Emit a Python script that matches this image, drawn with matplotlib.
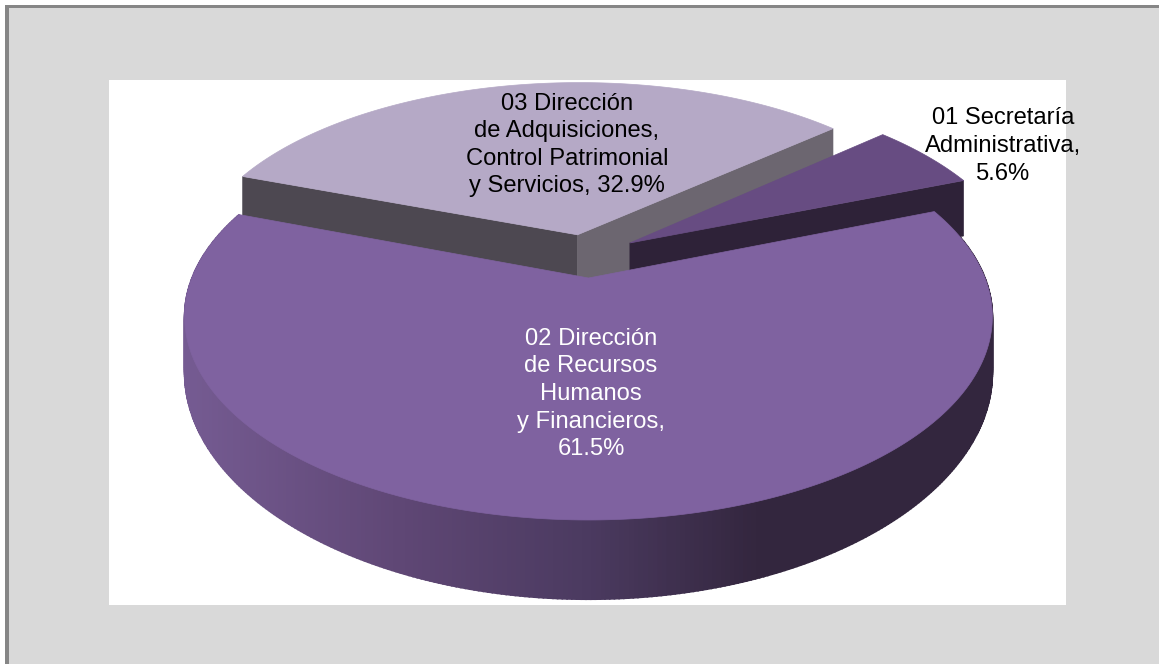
"""3D exploded pie: share of each administrative unit."""
import matplotlib

matplotlib.use("Agg")
import matplotlib.pyplot as plt
import numpy as np
from matplotlib.colors import LinearSegmentedColormap
from matplotlib.patches import Polygon, Rectangle

plt.rcParams["font.family"] = ["Liberation Sans", "DejaVu Sans"]

# data, clockwise from the start angle
categories = ["01 Secretaría\nAdministrativa,", "02 Dirección\nde Recursos\nHumanos\ny Financieros,",
              "03 Dirección\nde Adquisiciones,\nControl Patrimonial\ny Servicios,"]
shares = [5.6, 61.5, 32.9]

START_ANGLE = 48.6
# pie projection, in image pixels
CX, CY = 588.5, 278
WIDTH, HEIGHT, PERSP = 396.5, 196, 0.19
DROP = 52
OFFSETS = [(0.108, 0.185), (0.0, 0.0), (-0.029, 0.23)]
RADII = [1.005, 1.0, 1.0]
TOP_COLORS = ["#674c82", "#7f62a0", "#b5a9c6"]
WALL_STOPS = [(184, "#755b92"), (400, "#5f4775"), (590, "#4b3a60"), (760, "#33263e"), (993, "#33263e")]


def project(x, y, drop=0.0):
    w = 1 + PERSP * y
    return CX + WIDTH * x / w, CY - HEIGHT * y / w + drop * DROP / w ** 2


def rim(a0, a1, i, n=200):
    t = np.radians(np.linspace(a0, a1, n))
    return RADII[i] * np.sin(t) + OFFSETS[i][0], RADII[i] * np.cos(t) + OFFSETS[i][1]


def wall(ax, xs, ys, color, z, drop=1.0, lw=0.4):
    x0, y0 = project(xs, ys)
    x1, y1 = project(xs, ys, drop)
    pts = np.r_[np.c_[x0, y0], np.c_[x1, y1][::-1]]
    ax.add_patch(Polygon(pts, closed=True, fc=color, ec=color, lw=lw, zorder=z))


def cut_face(ax, angle, i, color, z, drop=1.0):
    t = np.radians(angle)
    xs = OFFSETS[i][0] + np.array([0, RADII[i] * np.sin(t)])
    ys = OFFSETS[i][1] + np.array([0, RADII[i] * np.cos(t)])
    wall(ax, xs, ys, color, z, drop)


fig = plt.figure(figsize=(11.59, 6.64), dpi=100)
ax = fig.add_axes([0, 0, 1, 1])
ax.set_xlim(0, 1159)
ax.set_ylim(664, 0)
ax.axis("off")

# panel: grey with a darker edge on the left and top only
ax.add_patch(Rectangle((5, 5), 1154, 659, fc="#868686", ec="none", zorder=0))
ax.add_patch(Rectangle((9, 8), 1150, 656, fc="#d9d9d9", ec="none", zorder=0))
ax.add_patch(Rectangle((109, 80), 957, 525, fc="white", ec="none", zorder=1))

edges = START_ANGLE + np.r_[0, np.cumsum(shares)] * 3.6
angles = list(zip(edges[:-1], edges[1:]))

# 03 slice cut faces
cut_face(ax, angles[2][0], 2, "#4d4851", 2)
cut_face(ax, angles[2][1], 2, "#6c6670", 2, drop=1.4)
# 01 slice cut face, runs down behind the big slice
cut_face(ax, angles[0][1], 0, "#2e2238", 3, drop=1.3)

for i in [2, 0]:
    xs, ys = rim(*angles[i], i)
    sx, sy = project(np.r_[OFFSETS[i][0], xs], np.r_[OFFSETS[i][1], ys])
    ax.add_patch(Polygon(np.c_[sx, sy], closed=True, fc=TOP_COLORS[i], ec=TOP_COLORS[i], lw=0.5, zorder=4))

# 02 slice: outer wall shaded left to right, then top
cmap = LinearSegmentedColormap.from_list(
    "wall", [((x - 184) / (993 - 184), c) for x, c in WALL_STOPS])
xs, ys = rim(*angles[1], 1, n=400)
for j in range(len(xs) - 1):
    mid = project(xs[j], ys[j])[0]
    wall(ax, xs[j:j + 2], ys[j:j + 2], cmap((mid - 184) / (993 - 184)), 5, lw=1.2)
sx, sy = project(np.r_[0, xs], np.r_[0, ys])
ax.add_patch(Polygon(np.c_[sx, sy], closed=True, fc=TOP_COLORS[1], ec=TOP_COLORS[1], lw=0.5, zorder=6))

labels = [f"{categories[0]}\n{shares[0]}%", f"{categories[1]}\n{shares[1]}%", f"{categories[2]} {shares[2]}%"]
text_style = dict(ha="center", va="center", fontsize=17.1, linespacing=1.33, zorder=8)
ax.text(1003, 146, labels[0], **text_style)
ax.text(591, 394, labels[1], color="white", **text_style)
ax.text(567, 145, labels[2], **text_style)

fig.savefig("out.png", dpi=100, facecolor="white")
